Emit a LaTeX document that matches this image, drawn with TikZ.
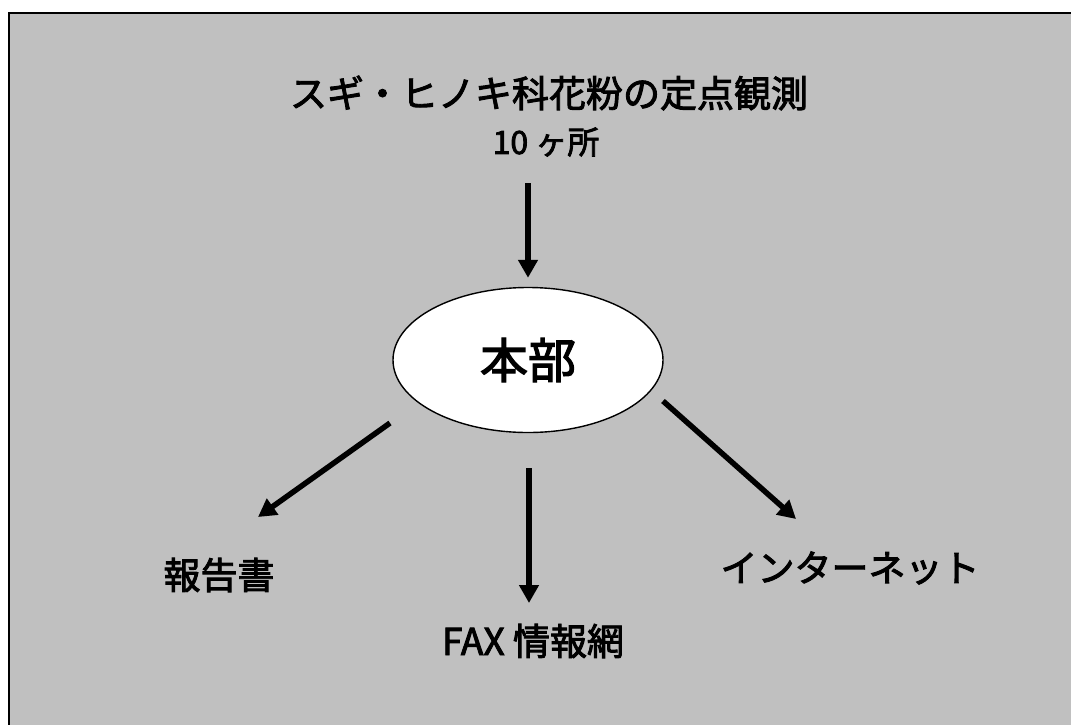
\documentclass[tikz,border=0pt]{standalone}
\usepackage{fontspec}
\setmainfont{Noto Sans CJK JP}[FakeBold=2.5]
\usetikzlibrary{arrows.meta,shapes.geometric,calc}
\definecolor{panelgray}{RGB}{192,192,192}
\begin{document}
\begin{tikzpicture}[x=1pt,y=-1pt,
  lbl/.style={inner sep=0pt,font=\fontsize{37}{40}\selectfont},
  arr/.style={line width=5.5pt,-{Triangle[width=19pt,length=18pt]}},
  hqstyle/.style={ellipse,draw,fill=white,line width=1.4pt,minimum width=270pt,minimum height=145pt,inner sep=0pt,font=\fontsize{48}{52}\selectfont}]
\useasboundingbox (0,0) rectangle (1071,724);
\fill[white] (0,0) rectangle (1071,724);
\begin{scope}
\clip (0,0) rectangle (1071,724);
\draw[fill=panelgray,line width=2.5pt] (9,13) rectangle (1090,740);
\end{scope}
\node[lbl] (src) at (549,93) {スギ・ヒノキ科花粉の定点観測};
\node[lbl,font=\fontsize{32}{35}\selectfont] (cnt) at (546,142) {10 ヶ所};
\node[hqstyle] (hq) at (528,360) {本部};
\node[lbl] (rep) at (219,575) {報告書};
\node[lbl] (fax) at (533,641) {FAX 情報網};
\node[lbl] (inet) at (850,568) {インターネット};
\draw[arr] ($(cnt)+(-18,41)$) -- ($(hq.north)+(0,-9)$);
\draw[arr] ($(hq)+(-138,63)$) -- ($(rep)+(39,-58)$);
\draw[arr] ($(hq.south)+(1,35)$) -- ($(fax)+(-4,-38)$);
\draw[arr] ($(hq)+(135,41)$) -- ($(inet)+(-54,-49)$);
\end{tikzpicture}
\end{document}
